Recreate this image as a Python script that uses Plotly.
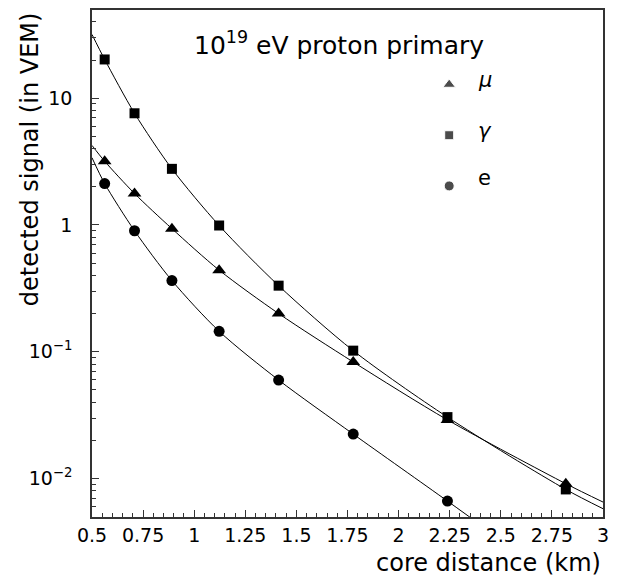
import numpy as np
import plotly.graph_objects as go

# measured points (core distance in km)
dist_km = [0.562, 0.708, 0.891, 1.122, 1.413, 1.778, 2.239, 2.818]
gamma_vals = [20.2, 7.6, 2.77, 0.99, 0.332, 0.102, 0.0305, 0.0082]
muon_vals = [3.18, 1.77, 0.935, 0.44, 0.20, 0.083, 0.029, 0.0091]
elec_vals = [2.12, 0.90, 0.364, 0.145, 0.0598, 0.0224, 0.00664]

# fitted curves
gamma_curve_x = [0.5] + dist_km + [3.0]
gamma_curve_y = [31.8] + gamma_vals + [0.00578]
muon_curve_x = [0.5] + dist_km + [3.0]
muon_curve_y = [4.24] + muon_vals + [0.00652]
elec_curve_x = [0.5] + dist_km[:7] + [2.5]
elec_curve_y = [3.39] + elec_vals + [0.0033]

x_tickvals = [0.5, 0.75, 1, 1.25, 1.5, 1.75, 2, 2.25, 2.5, 2.75, 3]
x_ticktext = ["0.5", "0.75", "1", "1.25", "1.5", "1.75", "2", "2.25", "2.5", "2.75", "3"]
y_tickvals = [0.01, 0.1, 1, 10]
y_ticktext = ["10<sup>\u22122</sup>", "10<sup>\u22121</sup>", "1", "10"]

legend_labels = ["<i>\u03bc</i>", "<i>\u03b3</i>", "e"]
legend_symbols = ["triangle-up", "square", "circle"]

FONT = "DejaVu Sans"
BLACK = "black"

fig = go.Figure()

for cx, cy in [(gamma_curve_x, gamma_curve_y), (muon_curve_x, muon_curve_y), (elec_curve_x, elec_curve_y)]:
    fig.add_trace(go.Scatter(x=cx, y=cy, mode="lines", line=dict(color=BLACK, width=1, shape="spline", smoothing=0.8),
                             showlegend=False, hoverinfo="skip", cliponaxis=True))

fig.add_trace(go.Scatter(x=dist_km, y=gamma_vals, mode="markers",
                         marker=dict(symbol="square", size=10, color=BLACK), showlegend=False))
fig.add_trace(go.Scatter(x=dist_km, y=muon_vals, mode="markers",
                         marker=dict(symbol="triangle-up", size=12, color=BLACK), showlegend=False))
fig.add_trace(go.Scatter(x=dist_km[:7], y=elec_vals, mode="markers",
                         marker=dict(symbol="circle", size=11, color=BLACK), showlegend=False))

# legend markers on a hidden overlay axis (paper-like coordinates)
leg_y = [0.853, 0.753, 0.653]
fig.add_trace(go.Scatter(x=[0.699] * 3, y=leg_y, mode="markers", xaxis="x2", yaxis="y2",
                         marker=dict(symbol=legend_symbols, size=[11, 9, 10], color=BLACK),
                         showlegend=False, hoverinfo="skip"))

annotations = [
    dict(text="10<sup>19</sup> eV proton primary", x=0.483, y=0.971, xref="paper", yref="paper",
         showarrow=False, font=dict(family=FONT, size=25, color=BLACK)),
    dict(text="detected signal (in VEM)", x=-0.121, y=1.0, xref="paper", yref="paper",
         xanchor="center", yanchor="top", textangle=-90, showarrow=False,
         font=dict(family=FONT, size=24, color=BLACK)),
    dict(text="core distance (km)", x=1.0, y=-0.09, xref="paper", yref="paper",
         xanchor="right", yanchor="middle", showarrow=False,
         font=dict(family=FONT, size=24, color=BLACK)),
]
leg_text_y = [0.862, 0.762, 0.668]
for lab, ly in zip(legend_labels, leg_text_y):
    annotations.append(dict(text=lab, x=0.752, y=ly, xref="paper", yref="paper", xanchor="left",
                            yanchor="middle", showarrow=False, font=dict(family=FONT, size=21, color=BLACK)))

y_minor = [m * 10.0 ** e for e in range(-3, 2) for m in range(2, 10)]
y_minor = [v for v in y_minor if 0.005 <= v <= 50]

fig.update_layout(
    width=615, height=569,
    margin=dict(l=84, r=20, t=0, b=60),
    paper_bgcolor="white", plot_bgcolor="white",
    font=dict(family=FONT, size=19, color=BLACK),
    showlegend=False,
    annotations=annotations,
    xaxis=dict(range=[0.5, 3.0], tickmode="array", tickvals=x_tickvals, ticktext=x_ticktext,
               ticks="inside", ticklen=7, tickwidth=1, tickcolor="#333",
               showline=True, linecolor="#333", linewidth=1.5, mirror=True, showgrid=False, zeroline=False,
               tickfont=dict(family=FONT, size=19, color=BLACK),
               minor=dict(dtick=0.05, tick0=0.5, ticks="inside", ticklen=4, tickcolor="#333", showgrid=False)),
    yaxis=dict(type="log", range=[np.log10(0.00497), np.log10(49.6)], tickmode="array",
               tickvals=y_tickvals, ticktext=y_ticktext,
               ticks="inside", ticklen=7, tickwidth=1, tickcolor="#333", ticklabelstandoff=14,
               showline=True, linecolor="#333", linewidth=1.5, mirror=True, showgrid=False, zeroline=False,
               tickfont=dict(family=FONT, size=19, color=BLACK),
               minor=dict(tickmode="array", tickvals=y_minor, ticks="inside", ticklen=4,
                          tickcolor="#333", showgrid=False)),
    xaxis2=dict(overlaying="x", range=[0, 1], visible=False, anchor="y2"),
    yaxis2=dict(overlaying="y", range=[0, 1], visible=False, anchor="x2"),
)

fig.write_html("out.html")
